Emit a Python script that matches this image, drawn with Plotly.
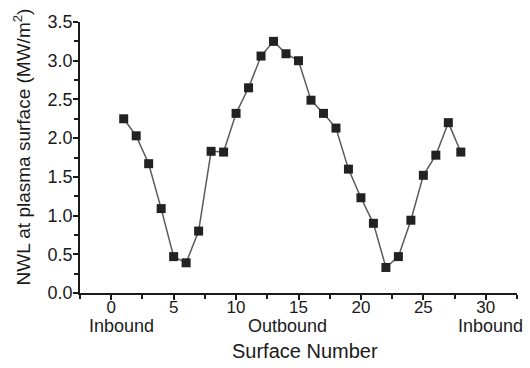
import plotly.graph_objects as go

surface = list(range(1, 29))
nwl = [2.25, 2.03, 1.67, 1.09, 0.47, 0.39, 0.80, 1.83, 1.82, 2.32, 2.65, 3.06,
       3.25, 3.09, 3.00, 2.49, 2.32, 2.13, 1.60, 1.23, 0.90, 0.33, 0.47, 0.94,
       1.52, 1.78, 2.20, 1.82]
region_labels = ["Inbound", "Outbound", "Inbound"]
region_pos = [0.85, 14.1, 30.4]

FONT = "Liberation Sans, Arial, Helvetica, sans-serif"
INK = "#1a1a1a"

fig = go.Figure()
fig.add_trace(go.Scatter(
    x=surface, y=nwl, mode="lines+markers",
    line=dict(color="#5a5a5a", width=1.5),
    marker=dict(symbol="square", size=9, color="#222222"),
    showlegend=False,
))

for lab, pos in zip(region_labels, region_pos):
    fig.add_annotation(x=pos, y=-0.078, xref="x", yref="paper", text=lab,
                       showarrow=False, yanchor="top", xanchor="center",
                       font=dict(family=FONT, size=18, color=INK))

fig.add_annotation(x=0.516, y=-0.165, xref="paper", yref="paper",
                   text="Surface Number", showarrow=False,
                   xanchor="center", yanchor="top",
                   font=dict(family=FONT, size=20, color=INK))
fig.add_annotation(x=-0.132, y=0.538, xref="paper", yref="paper",
                   text="NWL at plasma surface (MW/m<sup>2</sup>)", showarrow=False,
                   textangle=-90, xanchor="center", yanchor="middle",
                   font=dict(family=FONT, size=19, color=INK))

axis_common = dict(showgrid=False, zeroline=False, showline=True,
                   linecolor=INK, linewidth=1.5, ticks="outside",
                   ticklen=5, tickwidth=1.5, tickcolor=INK)

fig.update_xaxes(range=[-2.5, 32.5], tickvals=[0, 5, 10, 15, 20, 25, 30],
                 tickfont=dict(family=FONT, size=17, color=INK),
                 ticklabelstandoff=-7,
                 minor=dict(ticks="outside", ticklen=4, tickwidth=1.5,
                            tickcolor=INK, dtick=2.5, tick0=0),
                 **axis_common)
fig.update_yaxes(range=[0, 3.5], dtick=0.5, tickformat=".1f",
                 tickfont=dict(family=FONT, size=18, color=INK),
                 ticklabelstandoff=-3,
                 minor=dict(ticks="outside", ticklen=4, tickwidth=1.5,
                            tickcolor=INK, dtick=0.25, tick0=0),
                 **axis_common)

fig.update_layout(width=530, height=368, margin=dict(l=80, r=13, t=16, b=75),
                  plot_bgcolor="white", paper_bgcolor="white")

fig.write_html("out.html")
